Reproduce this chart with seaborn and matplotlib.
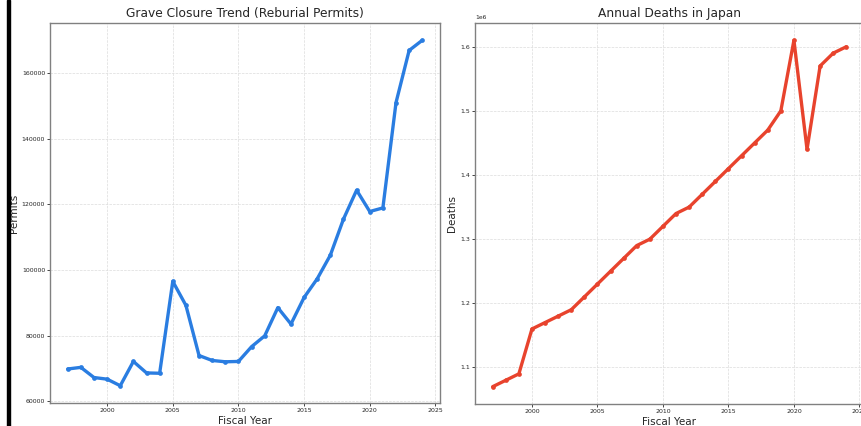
import matplotlib
matplotlib.use("Agg")
import matplotlib.pyplot as plt
import seaborn as sns
import pandas as pd

# Du lieu doc tu bieu do
years = list(range(1997, 2025))
permits = [69800, 70300, 67200, 66700, 64700, 72100, 68600, 68500, 96500, 89200,
           73900, 72400, 72000, 72100, 76600, 79900, 88500, 83500, 91600, 97300,
           104500, 115500, 124300, 117800, 118900, 151000, 166900, 170000]
deaths = [1.07e6, 1.08e6, 1.09e6, 1.16e6, 1.17e6, 1.18e6, 1.19e6, 1.21e6, 1.23e6, 1.25e6,
          1.27e6, 1.29e6, 1.30e6, 1.32e6, 1.34e6, 1.35e6, 1.37e6, 1.39e6, 1.41e6, 1.43e6,
          1.45e6, 1.47e6, 1.50e6, 1.61e6, 1.44e6, 1.57e6, 1.59e6, 1.60e6]

df = pd.DataFrame({'year': years, 'permits': permits, 'deaths': deaths})

sns.set_style("white")
plt.rcParams['font.family'] = ['DejaVu Sans']

fig = plt.figure(figsize=(8.61, 4.26), dpi=100)
W, H = 861, 426

# Vi tri truc theo pixel (anh goc bi cat o ben phai)
ax1 = fig.add_axes([50 / W, 23 / H, 390 / W, 380 / H])
ax2 = fig.add_axes([475 / W, 22 / H, 389 / W, 381 / H])

def style_axis(ax, title, ylabel):
    ax.set_title(title, fontsize=8.8, pad=4)
    ax.set_xlabel('Fiscal Year', fontsize=7.5, labelpad=2.5)
    ax.set_ylabel(ylabel, fontsize=7.5, labelpad=2)
    ax.tick_params(axis='both', labelsize=4.5, length=2, width=0.6, pad=1.5,
                   bottom=True, left=True)
    ax.grid(True, linestyle='--', color='#dcdcdc', linewidth=0.5)
    for s in ax.spines.values():
        s.set_color('#808080')
        s.set_linewidth(1.0)
    ax.set_xticks([2000, 2005, 2010, 2015, 2020, 2025])

sns.lineplot(data=df, x='year', y='permits', ax=ax1, color='#2a7de1',
             linewidth=2.4, marker='o', markersize=3.4, markeredgewidth=0)
style_axis(ax1, 'Grave Closure Trend (Reburial Permits)', 'Permits')
ax1.set_yticks([60000, 80000, 100000, 120000, 140000, 160000])

sns.lineplot(data=df, x='year', y='deaths', ax=ax2, color='#e8432d',
             linewidth=2.4, marker='o', markersize=3.4, markeredgewidth=0)
style_axis(ax2, 'Annual Deaths in Japan', 'Deaths')
ax2.yaxis.get_offset_text().set_fontsize(4.3)

# Thanh den ben trai (vien cua anh chup)
fig.add_artist(plt.Rectangle((7 / W, 0), 3 / W, 1, transform=fig.transFigure,
                             color='black', zorder=10))

fig.savefig('out.png', dpi=100)
